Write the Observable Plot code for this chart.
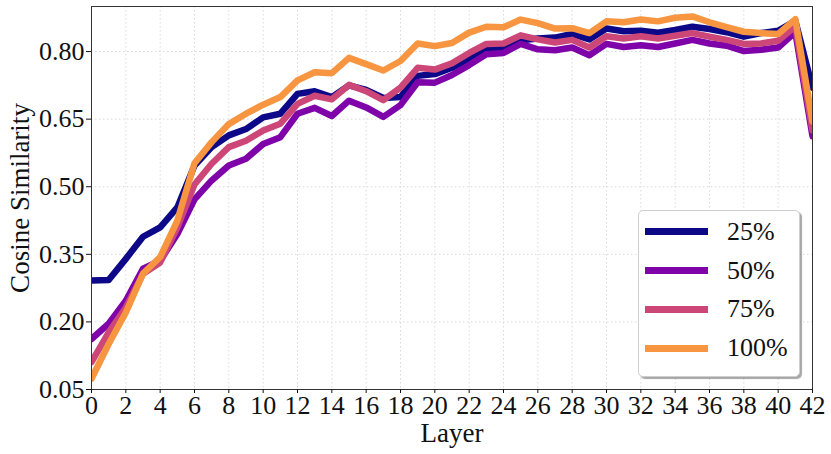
<!DOCTYPE html>
<html><head><meta charset="utf-8">
<script src="https://cdn.jsdelivr.net/npm/d3@7"></script>
<script src="https://cdn.jsdelivr.net/npm/@observablehq/plot@0.6"></script>
<style>
html,body{margin:0;padding:0;background:#fff;}
#wrap{position:relative;width:831px;height:454px;font-family:"Liberation Serif",serif;}
#legend{position:absolute;left:638px;top:210px;width:162px;height:167px;box-sizing:border-box;border:1px solid #cfcfcf;border-radius:5px;background:#fff;box-shadow:2px 2px 1px rgba(0,0,0,0.35);}
.row{position:absolute;left:0;height:0;width:100%;}
.sw{position:absolute;left:6px;width:63px;height:6.5px;top:-3.25px;}
.lab{position:absolute;left:88px;top:-16px;font-size:26px;line-height:32px;white-space:nowrap;color:#111;}
</style></head><body>
<div id="wrap"></div>
<script>
const layers = [0,1,2,3,4,5,6,7,8,9,10,11,12,13,14,15,16,17,18,19,20,21,22,23,24,25,26,27,28,29,30,31,32,33,34,35,36,37,38,39,40,41,42];
const seriesNames = ["25%","50%","75%","100%"];
const seriesColors = ["#0d0887","#7e03a8","#cc4778","#f89540"];
const v25 = [0.292,0.293,0.340,0.389,0.410,0.454,0.547,0.588,0.614,0.628,0.654,0.662,0.706,0.712,0.699,0.725,0.715,0.697,0.699,0.746,0.750,0.764,0.785,0.806,0.807,0.825,0.829,0.831,0.839,0.827,0.851,0.845,0.846,0.842,0.848,0.855,0.850,0.843,0.833,0.841,0.846,0.868,0.720];
const v50 = [0.162,0.196,0.247,0.318,0.336,0.395,0.472,0.514,0.547,0.562,0.595,0.610,0.662,0.675,0.657,0.691,0.676,0.655,0.681,0.732,0.731,0.748,0.770,0.794,0.797,0.817,0.805,0.803,0.809,0.792,0.817,0.810,0.814,0.810,0.818,0.826,0.818,0.813,0.801,0.804,0.809,0.843,0.612];
const v75 = [0.111,0.177,0.232,0.307,0.332,0.410,0.505,0.551,0.588,0.602,0.625,0.640,0.684,0.702,0.694,0.726,0.712,0.692,0.720,0.764,0.760,0.774,0.797,0.817,0.818,0.836,0.827,0.820,0.826,0.809,0.834,0.829,0.834,0.829,0.835,0.841,0.833,0.826,0.817,0.818,0.824,0.856,0.625];
const v100 = [0.074,0.151,0.221,0.307,0.344,0.425,0.552,0.599,0.639,0.662,0.682,0.699,0.736,0.754,0.752,0.786,0.772,0.758,0.779,0.818,0.812,0.819,0.842,0.855,0.854,0.871,0.863,0.851,0.852,0.841,0.867,0.865,0.871,0.867,0.875,0.878,0.865,0.854,0.844,0.841,0.839,0.872,0.645];
const xTicks = [0,2,4,6,8,10,12,14,16,18,20,22,24,26,28,30,32,34,36,38,40,42];
const yTicks = [0.05,0.20,0.35,0.50,0.65,0.80];
const xLabel = "Layer";
const yLabel = "Cosine Similarity";

const allValues = [v25, v50, v75, v100];
const data = seriesNames.flatMap((s, i) => layers.map((l, j) => ({layer: l, value: allValues[i][j], series: s})));

const chart = Plot.plot({
  width: 831, height: 454,
  marginLeft: 91, marginRight: 19, marginTop: 6, marginBottom: 65,
  style: {fontFamily: "'Liberation Serif', serif", fontSize: "26px", color: "#111", background: "#fff"},
  x: {domain: [0, 42]},
  y: {domain: [0.05, 0.9]},
  color: {domain: seriesNames, range: seriesColors},
  marks: [
    Plot.gridX(xTicks, {stroke: "#dadada", strokeOpacity: 1, strokeDasharray: "1.5,2.5"}),
    Plot.gridY(yTicks, {stroke: "#dadada", strokeOpacity: 1, strokeDasharray: "1.5,2.5"}),
    Plot.line(data, {x: "layer", y: "value", z: "series", stroke: "series", strokeWidth: 6.5, strokeLinejoin: "round", clip: true}),
    Plot.frame({stroke: "#333"}),
    Plot.axisX(xTicks, {tickSize: 4, tickPadding: 2, fontSize: 26, label: null}),
    Plot.axisY(yTicks, {tickSize: 5, tickPadding: 2, fontSize: 26, tickFormat: ".2f", label: null}),
    Plot.text([xLabel], {text: d => d, frameAnchor: "bottom", textAnchor: "middle", dy: 33, lineAnchor: "top", fontSize: 27}),
    Plot.text([yLabel], {text: d => d, frameAnchor: "left", textAnchor: "middle", dx: -71, rotate: -90, lineAnchor: "middle", fontSize: 27})
  ]
});

const wrap = document.getElementById("wrap");
wrap.appendChild(chart);

const legend = document.createElement("div");
legend.id = "legend";
const rowCenters = [20.7, 59.6, 98.4, 137.3];
seriesNames.forEach((s, i) => {
  const row = document.createElement("div");
  row.className = "row";
  row.style.top = rowCenters[i] + "px";
  const sw = document.createElement("div");
  sw.className = "sw";
  sw.style.background = seriesColors[i];
  const lab = document.createElement("div");
  lab.className = "lab";
  lab.textContent = s;
  row.appendChild(sw);
  row.appendChild(lab);
  legend.appendChild(row);
});
wrap.appendChild(legend);
</script>
</body></html>
